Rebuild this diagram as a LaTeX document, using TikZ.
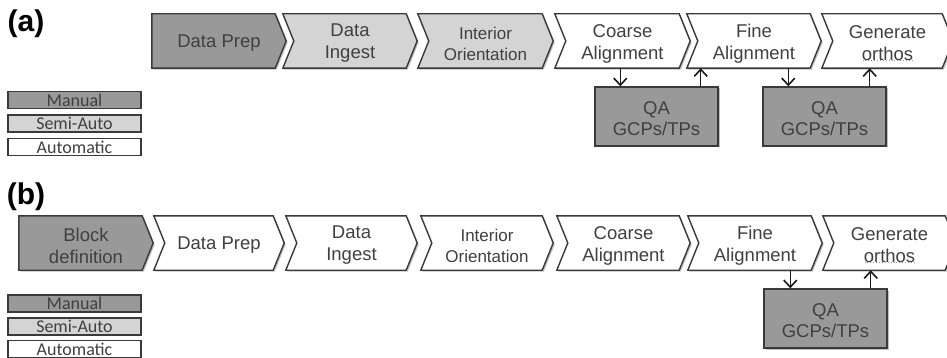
\documentclass[tikz,border=0pt]{standalone}
\usepackage{fontspec}
\setmainfont{Liberation Sans}
\newfontfamily\legfont{Carlito}
\usetikzlibrary{calc,shadows,arrows.meta}
\pgfdeclarelayer{background}
\pgfsetlayers{background,main}
\definecolor{man}{HTML}{999999}
\definecolor{semi}{HTML}{D4D4D4}
\definecolor{edgec}{HTML}{3A3A3A}
\definecolor{txt}{HTML}{404040}
\tikzset{
  chevshape/.style={rectangle, inner sep=0pt, minimum height=54pt},
  chevtext/.style={inner sep=0pt, align=center, text=txt,
    font=\fontsize{18.5}{22}\selectfont},
  smalltext/.style={font=\fontsize{17}{21}\selectfont},
  chevline/.style={draw=edgec, line width=1.4pt, line join=miter,
    drop shadow={shadow xshift=1.5pt, shadow yshift=-1.5pt, opacity=0.25, fill=black}},
  qabox/.style={rectangle, draw=edgec, fill=man, line width=1.4pt, minimum width=123pt,
    minimum height=59pt, inner sep=0pt,
    drop shadow={shadow xshift=1.5pt, shadow yshift=-1.5pt, opacity=0.25, fill=black}},
  qatext/.style={inner sep=0pt, align=center, text=txt, font=\fontsize{18.5}{21}\selectfont},
  legbox/.style={rectangle, draw=edgec, line width=1.3pt, minimum width=133pt,
    minimum height=17pt, inner sep=0pt, text=txt, font=\legfont\fontsize{18}{18}\selectfont},
  arr/.style={draw=black!90, line width=1.5pt,
    -{Straight Barb[length=7pt,width=13pt,line width=1.6pt]}},
  panel/.style={font=\bfseries\fontsize{30}{30}\selectfont, text=black},
  spell/.style={draw=black!40, line width=0.9pt, dotted}
}
% [#1 extra text style], #2 name, #3 left x, #4 tip x, #5 centre y, #6 fill colour, #7 text
\newcommand\mkchev[7][]{%
  \node[chevshape, minimum width={#4-#3}] (#2) at ({(#3+#4)/2},#5) {};
  \node[chevtext, #1] (#2-t) at ($(#2.center)+(0,2.5)$) {#7};
  \begin{pgfonlayer}{background}
  \filldraw[chevline, fill=#6] (#2.north west) -- ($(#2.north east)+(-11,0)$) -- (#2.east)
    -- ($(#2.south east)+(-11,0)$) -- (#2.south west) -- ($(#2.west)+(11,0)$) -- cycle;
  \end{pgfonlayer}}
\newcommand\mkfirst[7][]{%
  \node[chevshape, minimum width={#4-#3}] (#2) at ({(#3+#4)/2},#5) {};
  \node[chevtext, #1] (#2-t) at ($(#2.center)+(0,2.5)$) {#7};
  \begin{pgfonlayer}{background}
  \filldraw[chevline, fill=#6] (#2.north west) -- ($(#2.north east)+(-11,0)$) -- (#2.east)
    -- ($(#2.south east)+(-11,0)$) -- (#2.south west) -- cycle;
  \end{pgfonlayer}}
\newcommand\mkqa[3]{%
  \node[qabox] (#1) at (#2,#3) {};
  \node[qatext] (#1-t) at ($(#1.center)+(0,2)$) {QA\\GCPs/TPs};}
\begin{document}
\begin{tikzpicture}[x=1pt,y=-1pt]
\useasboundingbox (0,0) rectangle (947,358);
% ---------- (a) ----------
\node[panel] (pa) at (26,24) {(a)};
\mkfirst{a1}{152}{286}{41}{man}{Data Prep}
\mkchev{a2}{283}{417}{41}{semi}{Data\\Ingest}
\mkchev[smalltext]{a3}{418}{553}{41}{semi}{Interior\\Orientation}
\mkchev{a4}{555}{690}{41}{white}{Coarse\\Alignment}
\mkchev{a5}{687}{821}{41}{white}{Fine\\Alignment}
\mkchev{a6}{822}{953}{41}{white}{Generate\\orthos}
\draw[spell] ($(a6-t.south)+(-25,-1)$) -- ($(a6-t.south)+(26,-1)$);
\mkqa{qa1}{656.5}{116.5}
\mkqa{qa2}{824.5}{116.5}
\coordinate (qa1in) at ($(qa1.north west)+(26,0)$);
\coordinate (qa1out) at ($(qa1.north east)+(-18,0)$);
\coordinate (qa2in) at ($(qa2.north west)+(26,0)$);
\coordinate (qa2out) at ($(qa2.north east)+(-17,0)$);
\draw[arr] (a4.south -| qa1in) -- (qa1in);
\draw[arr] (qa1out) -- (qa1out |- a5.south);
\draw[arr] (a5.south -| qa2in) -- (qa2in);
\draw[arr] (qa2out) -- (qa2out |- a6.south);
\node[legbox, fill=man] (lam) at (74.5,100) {Manual};
\node[legbox, fill=semi] (las) at (74.5,123.5) {Semi-Auto};
\node[legbox, fill=white] (laa) at (74.5,147) {Automatic};
% ---------- (b) ----------
\node[panel] (pb) at (26,197) {(b)};
\mkfirst{b1}{19}{153}{243}{man}{Block\\definition}
\mkchev{b2}{154}{284}{243}{white}{Data Prep}
\mkchev{b3}{286}{417}{243}{white}{Data\\Ingest}
\mkchev[smalltext]{b4}{421}{553}{243}{white}{Interior\\Orientation}
\mkchev{b5}{557}{690}{243}{white}{Coarse\\Alignment}
\mkchev{b6}{688}{822}{243}{white}{Fine\\Alignment}
\mkchev{b7}{823}{956}{243}{white}{Generate\\orthos}
\draw[spell] ($(b7-t.south)+(-25,-1)$) -- ($(b7-t.south)+(26,-1)$);
\mkqa{qb}{825.5}{318.5}
\coordinate (qbin) at ($(qb.north west)+(27,0)$);
\coordinate (qbout) at ($(qb.north east)+(-17,0)$);
\draw[arr] (b6.south -| qbin) -- (qbin);
\draw[arr] (qbout) -- (qbout |- b7.south);
\node[legbox, fill=man] (lbm) at (74.5,303.5) {Manual};
\node[legbox, fill=semi] (lbs) at (74.5,326.5) {Semi-Auto};
\node[legbox, fill=white] (lba) at (74.5,349) {Automatic};
\end{tikzpicture}
\end{document}
